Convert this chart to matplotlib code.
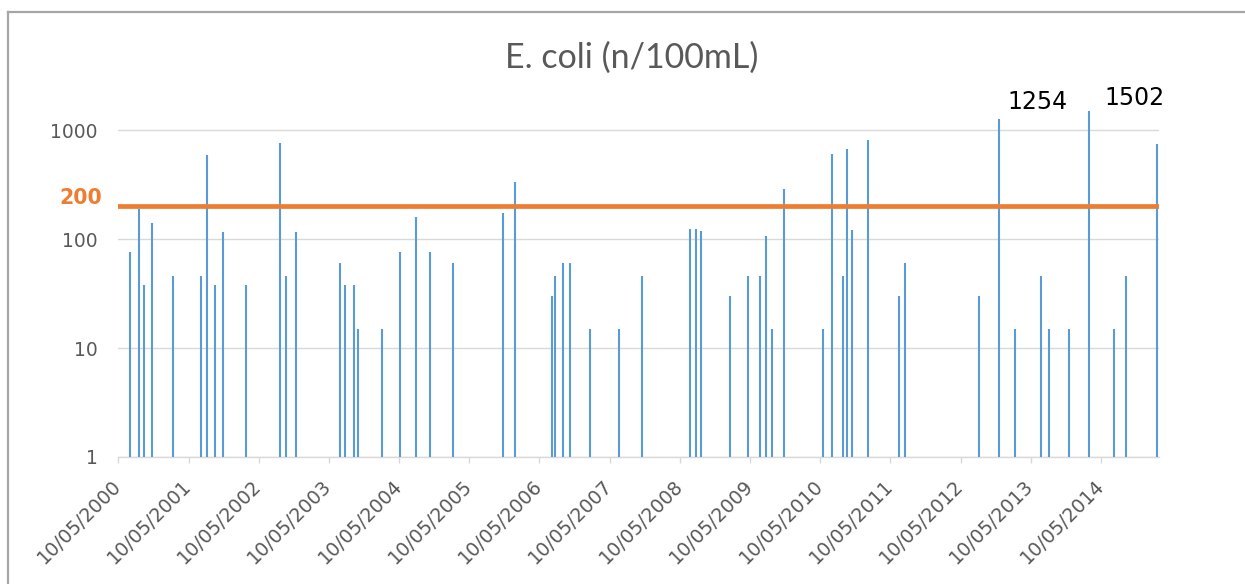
import matplotlib
matplotlib.use("Agg")
import matplotlib.pyplot as plt
from matplotlib.lines import Line2D
import pandas as pd

# ---------------- data ----------------
sample_dates = [
    "2000-07-09", "2000-08-24", "2000-09-19", "2000-10-30", "2001-02-17",
    "2001-07-12", "2001-08-16", "2001-09-23", "2001-11-04", "2002-03-06",
    "2002-08-30", "2002-09-27", "2002-11-18", "2003-07-07", "2003-08-04",
    "2003-09-18", "2003-10-09", "2004-02-10", "2004-05-13", "2004-08-05",
    "2004-10-17", "2005-02-12", "2005-11-03", "2006-01-02", "2006-07-12",
    "2006-07-31", "2006-09-09", "2006-10-14", "2007-01-28", "2007-06-26",
    "2007-10-24", "2008-06-29", "2008-08-01", "2008-08-27", "2009-01-27",
    "2009-04-29", "2009-07-02", "2009-08-01", "2009-09-01", "2009-11-01",
    "2010-05-22", "2010-07-08", "2010-09-05", "2010-09-26", "2010-10-22",
    "2011-01-15", "2011-06-22", "2011-07-26", "2012-08-11", "2012-11-25",
    "2013-02-18", "2013-06-30", "2013-08-15", "2013-11-24", "2014-03-08",
    "2014-07-16", "2014-09-15", "2015-02-26",
]
ecoli_values = [
    76, 187, 38, 141, 46,
    46, 585, 38, 116, 38,
    764, 46, 116, 60, 38,
    38, 15, 15, 76, 158,
    76, 60, 175, 331, 30,
    46, 60, 60, 15, 15,
    46, 123, 123, 118, 30,
    46, 46, 106, 15, 285,
    15, 606, 46, 670, 122,
    809, 30, 60, 30, 1254,
    15, 46, 15, 15, 1502,
    15, 46, 744,
]
threshold = 200
threshold_label = "200"
labelled_values = [1254, 1502]
tick_dates = [f"{y}-05-10" for y in range(2000, 2015)]
tick_labels = [f"10/05/{y}" for y in range(2000, 2015)]
y_ticks = [1, 10, 100, 1000]
y_tick_labels = ["1", "10", "100", "1000"]
title = "E. coli (n/100mL)"
x_start = "2000-05-10"
x_end = "2015-03-08"

# ---------------- style ----------------
plt.rcParams["font.family"] = ["DejaVu Sans"]
TITLEFONT = ["Lato", "DejaVu Sans"]
BLUE = "#5B9BD5"
ORANGE = "#ED7D31"
TXT = "#595959"
GRID = "#D9D9D9"

W, H = 1245, 584
fig = plt.figure(figsize=(W / 100, H / 100), dpi=100)
fig.patch.set_facecolor("white")

# chart frame (gray border at top/left)
fig.add_artist(Line2D([7.5 / W, 7.5 / W], [0, 1 - 12 / H], transform=fig.transFigure,
                      color="#A6A6A6", lw=1.6))
fig.add_artist(Line2D([7.5 / W, 1], [1 - 12 / H, 1 - 12 / H], transform=fig.transFigure,
                      color="#A6A6A6", lw=1.6))

left, right = 118.4 / W, 1159 / W
bottom, top = (H - 457) / H, (H - 97) / H
ax = fig.add_axes([left, bottom, right - left, top - bottom])

dates = pd.to_datetime(sample_dates)
ax.vlines(dates, 1, ecoli_values, color=BLUE, lw=1.5, zorder=3)

ax.set_yscale("log")
ax.set_ylim(1, 10 ** (3 + 33 / 109))
ax.set_xlim(pd.Timestamp(x_start), pd.Timestamp(x_end))

# threshold line
ax.axhline(threshold, color=ORANGE, lw=3.4, zorder=4)
ax.annotate(threshold_label, xy=(0, threshold), xycoords=("axes fraction", "data"),
            xytext=(-11.5, 6), textcoords="offset points", ha="right", va="center",
            color=ORANGE, fontsize=14.8, fontweight="bold")

# gridlines / y axis
ax.set_yticks(y_ticks)
ax.set_yticklabels(y_tick_labels)
ax.yaxis.set_minor_locator(matplotlib.ticker.NullLocator())
ax.grid(axis="y", which="major", color=GRID, lw=1.0, zorder=0)
ax.tick_params(axis="y", length=0, pad=15, labelsize=13.5, labelcolor=TXT)

# x axis
ax.set_xticks(pd.to_datetime(tick_dates))
ax.set_xticklabels(tick_labels, rotation=45, ha="right", va="center",
                   rotation_mode="anchor")
ax.tick_params(axis="x", length=4.5, width=1, color=GRID, pad=14, labelsize=13.8,
               labelcolor=TXT)

for s in ["top", "right", "left"]:
    ax.spines[s].set_visible(False)
ax.spines["bottom"].set_color(GRID)
ax.spines["bottom"].set_linewidth(1.0)

# value labels for the two highest samples
offsets = {1254: (6.0, 12.5), 1502: (11.0, 9.5)}
for d, v in zip(dates, ecoli_values):
    if v in labelled_values:
        ax.annotate(str(v), xy=(d, v), xytext=offsets[v], textcoords="offset points",
                    ha="left", va="center", fontsize=17, color="black")

fig.text(632 / W, 1 - 58 / H, title, ha="center", va="center", fontsize=24.5,
         color=TXT, family=TITLEFONT)

fig.savefig("out.png", dpi=100, facecolor="white")
